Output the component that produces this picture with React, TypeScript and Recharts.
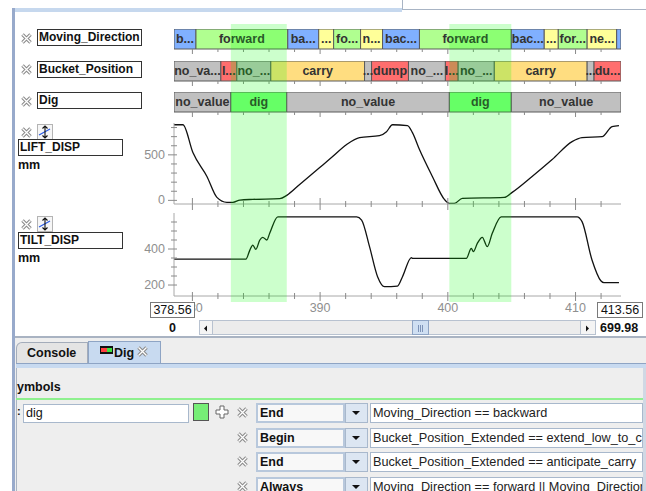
import React from 'react';
import { ComposedChart, LineChart, Line, XAxis, YAxis, ReferenceArea } from 'recharts';

const FONT = '"Liberation Sans", Arial, Helvetica, sans-serif';

// visible time window
const T_MIN = 378.56;
const T_MAX = 413.56;
const TIME_TICKS = [380, 382, 384, 386, 388, 390, 392, 394, 396, 398, 400, 402, 404, 406, 408, 410, 412];

// Moving_Direction
const MD_EDGES = [378.56, 380.28, 387.47, 389.89, 391.06, 393.17, 394.89, 397.78, 404.97, 407.55, 408.65, 410.91, 413.22, 413.56];
const MD_STATES = ['backward', 'forward', 'backward', 'neutral', 'forward', 'neutral', 'backward', 'forward', 'backward', 'neutral', 'forward', 'neutral', 'backward'];
const MD_LABELS = ['b...', 'forward', 'ba...', '...', 'fo...', 'n...', 'bac...', 'forward', 'bac...', '...', 'for...', 'ne...', ''];

// Bucket_Position
const BP_EDGES = [378.56, 382.23, 383.48, 386.14, 393.48, 394.03, 396.92, 399.81, 400.81, 403.64, 410.91, 411.45, 413.56];
const BP_STATES = ['no_value', 'low', 'no_value', 'carry', 'no_value', 'dump', 'no_value', 'low', 'no_value', 'carry', 'no_value', 'dump'];
const BP_LABELS = ['no_va...', 'l...', 'no_...', 'carry', '...', 'dump', 'no_...', 'l...', 'no_...', 'carry', '...', 'du...'];

// Dig
const DIG_EDGES = [378.56, 383.01, 387.39, 400.12, 404.97, 413.56];
const DIG_STATES = ['no_value', 'dig', 'no_value', 'dig', 'no_value'];
const DIG_LABELS = ['no_value', 'dig', 'no_value', 'dig', 'no_value'];

// LIFT_DISP (mm)
const LIFT_T = [378.56, 379.26, 380.04, 381.14, 381.92, 382.7, 383.17, 383.72, 384.73, 386.84, 387.39, 388.4, 389.97, 390.98, 392.08, 393.09, 394.65, 395.2, 395.67, 396.84, 397.23, 397.78, 398.79, 399.73, 400.12, 400.51, 401.14, 404.42, 405.04, 406.6, 408.17, 409.73, 410.51, 412.08, 412.86, 413.4];
const LIFT_V = [831, 831, 525, 263, 33, -22, -22, 3, 11, 19, 55, 175, 361, 481, 613, 689, 711, 755, 831, 821, 744, 558, 263, 11, -33, -33, 22, 33, 88, 263, 449, 646, 689, 700, 810, 821];
const LIFT_TICKS = [0, 100, 200, 300, 400, 500, 600, 700, 800];
const LIFT_LABELS = [0, 500];

// TILT_DISP (mm)
const TILT_T = [378.56, 384.19, 384.5, 384.73, 384.97, 385.28, 385.51, 385.83, 386.06, 386.69, 392.86, 393.25, 393.87, 394.5, 395.04, 396.06, 396.45, 397.15, 397.23, 401.45, 401.84, 402.0, 402.31, 402.7, 403.09, 403.48, 404.18, 410.12, 410.51, 411.29, 411.98, 412.23, 413.4];
const TILT_V = [344, 344, 394, 422, 398, 450, 465, 450, 489, 579, 579, 561, 413, 246, 191, 194, 246, 352, 348, 348, 404, 385, 431, 465, 413, 487, 579, 579, 552, 339, 224, 213, 213];
const TILT_TICKS = [200, 250, 300, 350, 400, 450, 500, 550];
const TILT_LABELS = [200, 400];

const CONDITIONS = [
  { kind: 'End', expr: 'Moving_Direction == backward' },
  { kind: 'Begin', expr: 'Bucket_Position_Extended == extend_low_to_carry' },
  { kind: 'End', expr: 'Bucket_Position_Extended == anticipate_carry' },
  { kind: 'Always', expr: 'Moving_Direction == forward || Moving_Direction == neutral' },
];

const STATE_FILL: Record<string, string> = {
  backward: '#80b0ff',
  forward: '#b0ff90',
  neutral: '#ffff99',
  no_value: '#c0c0c0',
  low: '#ff6e6e',
  dump: '#ff6e6e',
  carry: '#ffdd80',
  dig: '#80ff80',
};

type Segment = { start: number; end: number; state: string; label: string };
const toSegments = (edges: number[], states: string[], labels: string[]): Segment[] =>
  states.map((state, i) => ({ start: edges[i], end: edges[i + 1], state, label: labels[i] }));

const mdSegments = toSegments(MD_EDGES, MD_STATES, MD_LABELS);
const bpSegments = toSegments(BP_EDGES, BP_STATES, BP_LABELS);
const digSegments = toSegments(DIG_EDGES, DIG_STATES, DIG_LABELS);
const digBands = digSegments.filter(s => s.state === 'dig');
const liftData = LIFT_T.map((t, i) => ({ t, v: LIFT_V[i] }));
const tiltData = TILT_T.map((t, i) => ({ t, v: TILT_V[i] }));

const PLOT_LEFT = 174;
const PLOT_W = 447;
const AXIS_LEFT = 130;
const ROW_H = 20;

const timeTick = (minor: [number, number], major: [number, number], labels: boolean) => (p: any) => {
  const isMajor = p.payload.value % 10 === 0;
  const [up, down] = isMajor ? major : minor;
  return (
    <g>
      <line x1={p.x} x2={p.x} y1={p.y - up} y2={p.y + down} stroke="#8a8a8a" />
      {labels && isMajor && (
        <text x={p.x} y={p.y + 16} textAnchor="middle" fill="#8f8f8f" fontSize={12.5}>{p.payload.value}</text>
      )}
    </g>
  );
};

const valueTick = (labels: number[]) => (p: any) => {
  const isMajor = labels.includes(p.payload.value);
  return (
    <g>
      <line x1={p.x - (isMajor ? 6 : 3)} x2={p.x + 3} y1={p.y} y2={p.y} stroke="#8a8a8a" />
      {isMajor && (
        <text x={p.x - 9} y={p.y + 4} textAnchor="end" fill="#8f8f8f" fontSize={12.5}>{p.payload.value}</text>
      )}
    </g>
  );
};

const StateRow = ({ top, segments }: { top: number; segments: Segment[] }) => (
  <div style={{ position: 'absolute', left: PLOT_LEFT, top }}>
    <ComposedChart width={PLOT_W} height={ROW_H + 6} data={segments} margin={{ top: 0, right: 0, bottom: 0, left: 0 }}>
      <XAxis dataKey="start" type="number" domain={[T_MIN, T_MAX]} allowDataOverflow ticks={TIME_TICKS} interval={0}
        height={6} axisLine={false} tickLine={false} tickSize={0} tickMargin={0} tick={timeTick([0, 3], [0, 5], false)} />
      <YAxis hide type="number" domain={[0, 1]} allowDataOverflow />
      {segments.map((s, i) => (
        <ReferenceArea key={i} x1={s.start} x2={s.end} y1={0} y2={1} fill={STATE_FILL[s.state]} fillOpacity={1}
          stroke="#5a5a5a" strokeWidth={1} ifOverflow="visible"
          label={{ value: s.label, position: 'center', fill: '#333', fontSize: 12.5, fontWeight: 'bold' }} />
      ))}
    </ComposedChart>
  </div>
);

const XIcon = ({ left, top }: { left: number; top: number }) => (
  <svg style={{ position: 'absolute', left, top }} width={11} height={11}>
    <path d="M1.5 1.5 L9.5 9.5 M9.5 1.5 L1.5 9.5" stroke="#8a8a8a" strokeWidth={3.4} />
    <path d="M1.5 1.5 L9.5 9.5 M9.5 1.5 L1.5 9.5" stroke="#fff" strokeWidth={1.3} />
  </svg>
);

const ScaleIcon = ({ left, top }: { left: number; top: number }) => (
  <svg style={{ position: 'absolute', left, top }} width={16} height={16}>
    <rect x={0.5} y={0.5} width={15} height={15} fill="#f6f6f6" stroke="#b4b4b4" />
    <path d="M2 11 L13 5" stroke="#2b5ce6" strokeWidth={1.3} />
    <path d="M8 2 L8 14 M5.5 4.5 L8 2 L10.5 4.5 M5.5 11.5 L8 14 L10.5 11.5" stroke="#111" fill="none" strokeWidth={1.1} />
  </svg>
);

const NameBox = ({ left, top, text }: { left: number; top: number; text: string }) => (
  <div style={{
    position: 'absolute', left, top, width: 105, height: 17, boxSizing: 'border-box', border: '1px solid #333',
    background: '#fff', fontWeight: 'bold', fontSize: 12, lineHeight: '15px', paddingLeft: 1, whiteSpace: 'nowrap', overflow: 'hidden',
  }}>{text}</div>
);

const SmallBox = ({ left, top, width, text }: { left: number; top: number; width: number; text: string }) => (
  <div style={{
    position: 'absolute', left, top, width, height: 16, boxSizing: 'border-box', border: '1px solid #7a7a7a',
    background: '#fff', fontSize: 12.5, lineHeight: '14px', textAlign: 'center',
  }}>{text}</div>
);

export default function App() {
  return (
    <div style={{ position: 'absolute', left: 0, top: 0, width: 646, height: 491, overflow: 'hidden', background: '#fff', fontFamily: FONT, color: '#111' }}>
      {/* frame */}
      <div style={{ position: 'absolute', left: 12, top: 8, width: 390, height: 4, background: '#c6d8ee' }} />
      <div style={{ position: 'absolute', left: 402, top: 0, width: 1, height: 9, background: '#a8b4c4' }} />
      <div style={{ position: 'absolute', left: 402, top: 9, width: 244, height: 1, background: '#a8b4c4' }} />
      <div style={{ position: 'absolute', left: 12, top: 8, width: 3, height: 483, background: '#98aacb' }} />

      {/* state rows */}
      <StateRow top={29} segments={mdSegments} />
      <StateRow top={61} segments={bpSegments} />
      <StateRow top={92} segments={digSegments} />

      {/* LIFT_DISP */}
      <div style={{ position: 'absolute', left: AXIS_LEFT, top: 123 }}>
        <LineChart width={PLOT_LEFT + PLOT_W - AXIS_LEFT} height={81 + 8} data={liftData} margin={{ top: 0, right: 0, bottom: 0, left: 0 }}>
          <XAxis dataKey="t" type="number" domain={[T_MIN, T_MAX]} allowDataOverflow ticks={TIME_TICKS} interval={0} height={8}
            axisLine={{ stroke: '#a8a8a8' }} tickLine={false} tickSize={0} tickMargin={0} tick={timeTick([3, 3], [6, 6], false)} />
          <YAxis width={PLOT_LEFT - AXIS_LEFT} domain={[-40, 850]} allowDataOverflow ticks={LIFT_TICKS} interval={0}
            axisLine={{ stroke: '#a8a8a8' }} tickLine={false} tickSize={0} tickMargin={0} tick={valueTick(LIFT_LABELS)} />
          <Line dataKey="v" type="monotone" stroke="#111" strokeWidth={1.3} dot={false} activeDot={false} isAnimationActive={false} />
        </LineChart>
      </div>

      {/* TILT_DISP */}
      <div style={{ position: 'absolute', left: AXIS_LEFT, top: 213 }}>
        <LineChart width={PLOT_LEFT + PLOT_W - AXIS_LEFT} height={83 + 22} data={tiltData} margin={{ top: 0, right: 0, bottom: 0, left: 0 }}>
          <XAxis dataKey="t" type="number" domain={[T_MIN, T_MAX]} allowDataOverflow ticks={TIME_TICKS} interval={0} height={22}
            axisLine={{ stroke: '#a8a8a8' }} tickLine={false} tickSize={0} tickMargin={0} tick={timeTick([3, 3], [4, 5], true)} />
          <YAxis width={PLOT_LEFT - AXIS_LEFT} domain={[139, 600]} allowDataOverflow ticks={TILT_TICKS} interval={0}
            axisLine={{ stroke: '#a8a8a8' }} tickLine={false} tickSize={0} tickMargin={0} tick={valueTick(TILT_LABELS)} />
          <Line dataKey="v" type="monotone" stroke="#111" strokeWidth={1.3} dot={false} activeDot={false} isAnimationActive={false} />
        </LineChart>
      </div>

      {/* dig highlight bands */}
      <div style={{ position: 'absolute', left: PLOT_LEFT, top: 24, pointerEvents: 'none' }}>
        <ComposedChart width={PLOT_W} height={278} data={digBands} margin={{ top: 0, right: 0, bottom: 0, left: 0 }}>
          <XAxis dataKey="start" type="number" domain={[T_MIN, T_MAX]} allowDataOverflow hide />
          <YAxis hide type="number" domain={[0, 1]} allowDataOverflow />
          {digBands.map((b, i) => (
            <ReferenceArea key={i} x1={b.start} x2={b.end} y1={0} y2={1} fill="#00ff00" fillOpacity={0.2} stroke="none" ifOverflow="visible" />
          ))}
        </ComposedChart>
      </div>

      {/* signal names */}
      <XIcon left={21} top={33} />
      <NameBox left={37} top={29} text="Moving_Direction" />
      <XIcon left={21} top={64} />
      <NameBox left={37} top={61} text="Bucket_Position" />
      <XIcon left={21} top={96} />
      <NameBox left={37} top={92} text="Dig" />

      <XIcon left={21} top={127} />
      <ScaleIcon left={37} top={124} />
      <NameBox left={18} top={139} text="LIFT_DISP" />
      <div style={{ position: 'absolute', left: 18, top: 158, fontSize: 12.5, fontWeight: 'bold' }}>mm</div>

      <XIcon left={21} top={219} />
      <ScaleIcon left={37} top={216} />
      <NameBox left={18} top={232} text="TILT_DISP" />
      <div style={{ position: 'absolute', left: 18, top: 251, fontSize: 12.5, fontWeight: 'bold' }}>mm</div>

      {/* window range + scrollbar */}
      <SmallBox left={150} top={302} width={45} text="378.56" />
      <SmallBox left={597} top={302} width={46} text="413.56" />
      <div style={{ position: 'absolute', left: 169, top: 321, fontSize: 12.5, fontWeight: 'bold' }}>0</div>
      <div style={{ position: 'absolute', left: 199, top: 320, width: 397, height: 15, boxSizing: 'border-box', border: '1px solid #b8c2d0', background: '#ececec' }} />
      <div style={{ position: 'absolute', left: 199, top: 320, width: 14, height: 15, boxSizing: 'border-box', border: '1px solid #b8c2d0', background: '#f4f4f4' }}>
        <svg width={12} height={13}><path d="M4 6.5 L7 3.5 L7 9.5 Z" fill="#111" /></svg>
      </div>
      <div style={{ position: 'absolute', left: 412, top: 320, width: 17, height: 15, boxSizing: 'border-box', border: '1px solid #8ea4c4', background: '#cfdff2' }}>
        <svg width={15} height={13}><path d="M5.5 3 V10 M7.5 3 V10 M9.5 3 V10" stroke="#7d93b8" /></svg>
      </div>
      <div style={{ position: 'absolute', left: 580, top: 320, width: 16, height: 15, boxSizing: 'border-box', border: '1px solid #b8c2d0', background: '#f4f4f4' }}>
        <svg width={14} height={13}><path d="M5 3.5 L8 6.5 L5 9.5 Z" fill="#111" /></svg>
      </div>
      <div style={{ position: 'absolute', left: 600, top: 321, fontSize: 12.5, fontWeight: 'bold' }}>699.98</div>

      {/* lower panel */}
      <div style={{ position: 'absolute', left: 15, top: 336, width: 631, height: 2, background: '#a9b3c2' }} />
      <div style={{ position: 'absolute', left: 15, top: 338, width: 631, height: 153, background: '#eeeeee' }} />
      <div style={{ position: 'absolute', left: 16, top: 342, width: 72, height: 22, boxSizing: 'border-box', border: '1px solid #a3acba', borderBottom: 'none', borderTopLeftRadius: 6, background: '#e4e4e4', fontSize: 12.5, fontWeight: 'bold', lineHeight: '21px', paddingLeft: 10 }}>Console</div>
      <div style={{ position: 'absolute', left: 88, top: 341, width: 73, height: 23, boxSizing: 'border-box', border: '1px solid #8ea4c4', borderBottom: 'none', background: '#c8daf0', fontSize: 12.5, fontWeight: 'bold', lineHeight: '22px', paddingLeft: 25 }}>Dig</div>
      <svg style={{ position: 'absolute', left: 100, top: 346 }} width={13} height={8}>
        <rect x={0} y={0} width={13} height={8} fill="#111" />
        <rect x={1} y={2} width={6} height={4} fill="#ff4040" />
        <rect x={7} y={2} width={5} height={4} fill="#40e040" />
      </svg>
      <XIcon left={137} top={346} />
      <div style={{ position: 'absolute', left: 16, top: 363, width: 630, height: 4, background: '#c8daf0', borderTop: '1px solid #8ea4c4' }} />
      <div style={{ position: 'absolute', left: 16, top: 368, width: 1, height: 123, background: '#a9b3c2' }} />
      <div style={{ position: 'absolute', left: 17, top: 380, fontSize: 12.5, fontWeight: 'bold' }}>ymbols</div>
      <div style={{ position: 'absolute', left: 16, top: 398, width: 630, height: 2, background: '#8ef08e' }} />

      <div style={{ position: 'absolute', left: 17, top: 405, fontSize: 11, fontWeight: 'bold' }}>:</div>
      <div style={{ position: 'absolute', left: 23, top: 404, width: 166, height: 19, boxSizing: 'border-box', border: '1px solid #a8b8cc', background: '#fff', fontSize: 12.5, lineHeight: '17px', paddingLeft: 2 }}>dig</div>
      <div style={{ position: 'absolute', left: 193, top: 403, width: 16, height: 18, boxSizing: 'border-box', border: '1px solid #555', background: '#77ee77' }} />
      <svg style={{ position: 'absolute', left: 215, top: 405 }} width={14} height={14}>
        <path d="M5 1 H9 V5 H13 V9 H9 V13 H5 V9 H1 V5 H5 Z" fill="#fff" stroke="#666" />
      </svg>
      {CONDITIONS.map((c, i) => {
        const top = 403 + i * 24.5;
        return (
          <React.Fragment key={i}>
            <XIcon left={237} top={top + 4} />
            <div style={{ position: 'absolute', left: 256, top, width: 89, height: 20, boxSizing: 'border-box', border: '2px solid #b8c8dc', background: '#f8f8f8', fontSize: 12.5, fontWeight: 'bold', lineHeight: '16px', paddingLeft: 2 }}>{c.kind}</div>
            <div style={{ position: 'absolute', left: 345, top, width: 23, height: 20, boxSizing: 'border-box', border: '1px solid #a8b8cc', background: '#dce6f2' }}>
              <svg width={21} height={18}><path d="M6 7 L14 7 L10 11 Z" fill="#111" /></svg>
            </div>
            <div style={{ position: 'absolute', left: 370, top, width: 273, height: 20, boxSizing: 'border-box', border: '1px solid #a8b8cc', background: '#fff', fontSize: 12.7, lineHeight: '18px', paddingLeft: 2, whiteSpace: 'nowrap', overflow: 'hidden', color: '#222' }}>{c.expr}</div>
          </React.Fragment>
        );
      })}
      <div style={{ position: 'absolute', left: 643, top: 368, width: 3, height: 123, background: '#d0d8e4' }} />
    </div>
  );
}
